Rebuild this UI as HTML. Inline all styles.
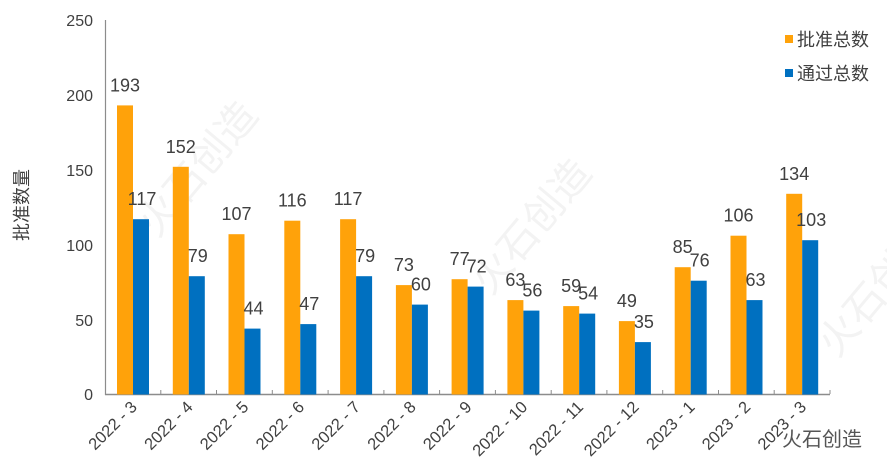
<!DOCTYPE html>
<html><head><meta charset="utf-8"><style>
html,body{margin:0;padding:0;background:#fff;}
svg{display:block;font-family:"Liberation Sans","Noto Sans CJK SC",sans-serif;}
</style></head><body>
<svg width="887" height="475" viewBox="0 0 887 475" xmlns="http://www.w3.org/2000/svg">
<g fill="#f3f3f3" font-size="40" transform="rotate(-50 180 180)"><text x="120" y="200">火石创造</text></g>
<g fill="#f3f3f3" font-size="40" transform="rotate(-50 520 230)"><text x="450" y="250">火石创造</text></g>
<g fill="#f3f3f3" font-size="40" transform="rotate(-50 860 300)"><text x="800" y="320">火石创造</text></g>
<line x1="105.5" y1="20" x2="105.5" y2="395" stroke="#8c8c8c" stroke-width="1.2"/>
<line x1="105" y1="394.5" x2="830" y2="394.5" stroke="#8c8c8c" stroke-width="1.5"/>
<g stroke="#8c8c8c" stroke-width="1">
<line x1="160.8" y1="390" x2="160.8" y2="394"/><line x1="216.5" y1="390" x2="216.5" y2="394"/><line x1="272.3" y1="390" x2="272.3" y2="394"/><line x1="328.1" y1="390" x2="328.1" y2="394"/><line x1="383.9" y1="390" x2="383.9" y2="394"/><line x1="439.6" y1="390" x2="439.6" y2="394"/><line x1="495.4" y1="390" x2="495.4" y2="394"/><line x1="551.2" y1="390" x2="551.2" y2="394"/><line x1="606.9" y1="390" x2="606.9" y2="394"/><line x1="662.7" y1="390" x2="662.7" y2="394"/><line x1="718.5" y1="390" x2="718.5" y2="394"/><line x1="774.2" y1="390" x2="774.2" y2="394"/><line x1="830" y1="390" x2="830" y2="394"/>
</g>
<g font-size="16" fill="#404040" text-anchor="end">
<text x="93" y="26">250</text><text x="93" y="101">200</text><text x="93" y="176">150</text><text x="93" y="251">100</text><text x="93" y="326">50</text><text x="93" y="400">0</text>
</g>
<text transform="translate(28 205) rotate(-90)" font-size="18" fill="#404040" text-anchor="middle">批准数量</text>
<g fill="#FFA20A">
<rect x="117" y="105.4" width="16" height="289.1"/>
<rect x="172.8" y="166.8" width="16" height="227.7"/>
<rect x="228.5" y="234.2" width="16" height="160.3"/>
<rect x="284.3" y="220.7" width="16" height="173.8"/>
<rect x="340.1" y="219.2" width="16" height="175.3"/>
<rect x="395.9" y="285.1" width="16" height="109.4"/>
<rect x="451.6" y="279.2" width="16" height="115.3"/>
<rect x="507.4" y="300.1" width="16" height="94.4"/>
<rect x="563.2" y="306.1" width="16" height="88.4"/>
<rect x="618.9" y="321.1" width="16" height="73.4"/>
<rect x="674.7" y="267.2" width="16" height="127.3"/>
<rect x="730.5" y="235.7" width="16" height="158.8"/>
<rect x="786.2" y="193.8" width="16" height="200.7"/>
</g>
<g fill="#0070C0">
<rect x="133" y="219.2" width="16" height="175.3"/>
<rect x="188.8" y="276.2" width="16" height="118.3"/>
<rect x="244.5" y="328.6" width="16" height="65.9"/>
<rect x="300.3" y="324.1" width="16" height="70.4"/>
<rect x="356.1" y="276.2" width="16" height="118.3"/>
<rect x="411.9" y="304.6" width="16" height="89.9"/>
<rect x="467.6" y="286.6" width="16" height="107.9"/>
<rect x="523.4" y="310.6" width="16" height="83.9"/>
<rect x="579.2" y="313.6" width="16" height="80.9"/>
<rect x="634.9" y="342.1" width="16" height="52.4"/>
<rect x="690.7" y="280.7" width="16" height="113.8"/>
<rect x="746.5" y="300.1" width="16" height="94.4"/>
<rect x="802.2" y="240.2" width="16" height="154.3"/>
</g>
<g font-size="18" fill="#404040" text-anchor="middle">
<text x="125" y="91.4">193</text><text x="180.8" y="152.8">152</text><text x="236.5" y="220.2">107</text><text x="292.3" y="206.7">116</text><text x="348.1" y="205.2">117</text><text x="403.9" y="271.1">73</text><text x="459.6" y="265.2">77</text><text x="515.4" y="286.1">63</text><text x="571.2" y="292.1">59</text><text x="626.9" y="307.1">49</text><text x="682.7" y="253.2">85</text><text x="738.5" y="221.7">106</text><text x="794.2" y="179.8">134</text>
<text x="142" y="205.2">117</text><text x="197.8" y="262.2">79</text><text x="253.5" y="314.6">44</text><text x="309.3" y="310.1">47</text><text x="365.1" y="262.2">79</text><text x="420.9" y="290.6">60</text><text x="476.6" y="272.6">72</text><text x="532.4" y="296.6">56</text><text x="588.2" y="299.6">54</text><text x="643.9" y="328.1">35</text><text x="699.7" y="266.7">76</text><text x="755.5" y="286.1">63</text><text x="811.2" y="226.2">103</text>
</g>
<g font-size="16.5" fill="#404040" text-anchor="end">
<text transform="translate(138 408) rotate(-45)">2022 - 3</text>
<text transform="translate(193.8 408) rotate(-45)">2022 - 4</text>
<text transform="translate(249.5 408) rotate(-45)">2022 - 5</text>
<text transform="translate(305.3 408) rotate(-45)">2022 - 6</text>
<text transform="translate(361.1 408) rotate(-45)">2022 - 7</text>
<text transform="translate(416.9 408) rotate(-45)">2022 - 8</text>
<text transform="translate(472.6 408) rotate(-45)">2022 - 9</text>
<text transform="translate(528.4 408) rotate(-45)">2022 - 10</text>
<text transform="translate(584.2 408) rotate(-45)">2022 - 11</text>
<text transform="translate(639.9 408) rotate(-45)">2022 - 12</text>
<text transform="translate(695.7 408) rotate(-45)">2023 - 1</text>
<text transform="translate(751.5 408) rotate(-45)">2023 - 2</text>
<text transform="translate(807.2 408) rotate(-45)">2023 - 3</text>
</g>
<text x="822" y="446" font-size="20" fill="#555" text-anchor="middle">火石创造</text>
<rect x="785" y="35" width="8" height="8" fill="#FFA20A"/>
<rect x="785" y="69" width="8" height="8" fill="#0070C0"/>
<g font-size="18" fill="#404040">
<text x="797" y="46">批准总数</text>
<text x="797" y="80">通过总数</text>
</g>
</svg>
</body></html>
